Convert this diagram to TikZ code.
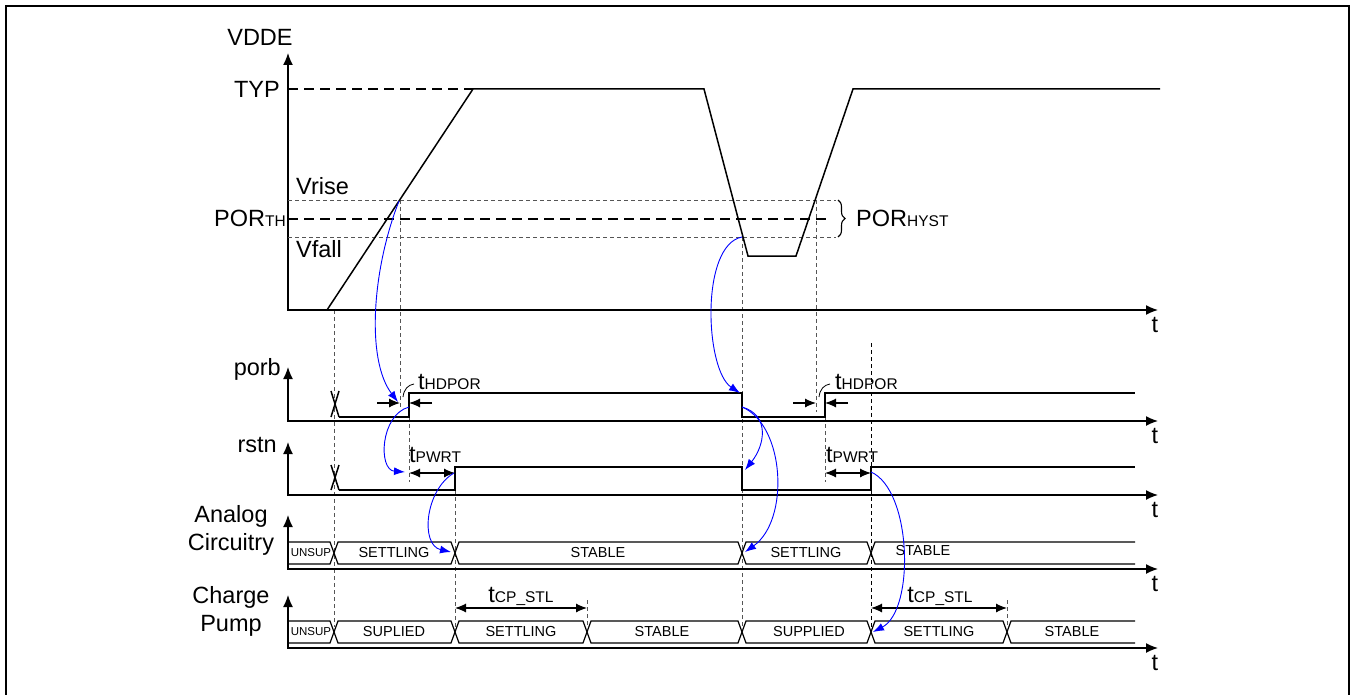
\documentclass[tikz,border=0pt]{standalone}
\usepackage{fontspec}
\setmainfont{Liberation Sans}
\usetikzlibrary{arrows.meta,positioning,calc,decorations.pathreplacing}
\definecolor{gline}{HTML}{555555}
\tikzset{
  wave/.style   = {line width=1.5pt, line join=miter},
  axes/.style   = {{Latex[length=12pt,width=10pt]}-{Latex[length=12pt,width=10pt]}, line width=1.4pt},
  busln/.style  = {line width=1.2pt},
  guide/.style  = {gline, line width=0.9pt, dash pattern=on 4pt off 3pt},
  thresh/.style = {line width=1.2pt, dash pattern=on 10pt off 6pt},
  cause/.style  = {blue, line width=0.9pt, -{Latex[length=11pt,width=8pt]}},
  dimarr/.style = {line width=1.1pt, {Latex[length=11pt,width=9pt]}-{Latex[length=11pt,width=9pt]}},
  dimtip/.style = {line width=1.1pt, -{Latex[length=11pt,width=9pt]}},
  leader/.style = {line width=0.8pt},
}
\newcommand{\mainsz}{\fontsize{23.5}{28}\selectfont}
\newcommand{\subsz}{\fontsize{15.5}{18}\selectfont}
\newcommand{\bussz}{\fontsize{14.5}{17}\selectfont}
\newcommand{\unsz}{\fontsize{11.5}{13}\selectfont}
\newcommand{\withsub}[2]{#1{\subsz #2}}

\begin{document}
\begin{tikzpicture}[x=1pt,y=-1pt,font=\mainsz,inner sep=0pt]
\useasboundingbox (0,0) rectangle (1352,695);
\draw[line width=1.5pt] (6,695) -- (6,6) -- (1349,6) -- (1349,695);
% ---- guides ----
\foreach \x/\ya/\yb in {334/310/627, 400/200/410, 409/417/482, 455/490/627,
                        742/237/627, 816/200/412, 825/417/482, 587/600/627, 1007/600/627}
  \draw[guide] (\x,\ya) -- (\x,\yb);
\draw[guide,black] (871,343) -- (871,627);
% ---- axes ----
\foreach \yb/\yt/\n in {310/53/v, 421/367/p, 495/442/r, 569/515/a, 648/595/c}{
  \draw[axes] (288,\yt) -- (288,\yb) -- (1158,\yb);
  \node[anchor=base] (t\n) at (1155,\yb+22) {t};}
\node[anchor=base] (vdde) at (260,46) {VDDE};
\node[anchor=base east] (porb) at (281,375) {porb};
\node[anchor=base east] (rstn) at (277,452) {rstn};
\node[align=center] (ana) at (231,530) {Analog\\Circuitry};
\node[align=center] (cp) at (231,611) {Charge\\Pump};
% ---- VDDE panel ----
\node[anchor=base east] (typ) at (280,98) {TYP};
\node[anchor=base east] (porth) at (286,226) {\withsub{POR}{TH}};
\node[anchor=base west] (vrise) at (296,195) {Vrise};
\node[anchor=base west] (vfall) at (296,258) {Vfall};
\draw[thresh] (288,89) -- (473,89);
\draw[thresh] (288,219) -- (830,219);
\draw[guide] (288,200) -- (836,200);
\draw[guide] (288,237) -- (836,237);
\draw[decorate,decoration={brace,amplitude=7pt},line width=1.1pt] (838,200) -- (838,237);
\node[anchor=base west] (hyst) at (856,227) {\withsub{POR}{HYST}};
\draw[wave] (327,310) -- (473,89) -- (704,89) -- (748,256) -- (796,256) -- (853,89) -- (1160,89);
% ---- porb / rstn ----
\draw[wave] (331,391) -- (339,417) (339,391) -- (331,417);
\draw[wave] (339,417) -- (409,417) -- (409,393) -- (742,393) -- (742,417)
  -- (825,417) -- (825,393) -- (1135,393);
\draw[wave] (331,465) -- (339,490) (339,465) -- (331,490);
\draw[wave] (339,490) -- (455,490) -- (455,467) -- (742,467) -- (742,490)
  -- (871,490) -- (871,467) -- (1135,467);
% tHDPOR and tPWRT
\foreach \xa/\xb in {400/409, 816/825}{
  \draw[dimtip] (\xa-23,403) -- (\xa,403);
  \draw[dimtip] (\xb+23,403) -- (\xb,403);
  \draw[leader] (\xa+3,397) .. controls (\xa+4,389) and (\xa+8,385) .. (\xa+14,384);}
\node[anchor=base west] (hd1) at (418,389) {\withsub{t}{HDPOR}};
\node[anchor=base west] (hd2) at (835,389) {\withsub{t}{HDPOR}};
\draw[dimarr] (409,473) -- (455,473);
\draw[dimarr] (825,473) -- (871,473);
\node[anchor=base west] (pw1) at (409,462) {\withsub{t}{PWRT}};
\node[anchor=base west] (pw2) at (826,462) {\withsub{t}{PWRT}};
% ---- Analog Circuitry bus ----
\draw[busln] (288,542) -- (330,542) -- (334,553) -- (330,564) -- (288,564);
\node[font=\unsz] (an0) at (311,553) {UNSUP};
\foreach \a/\b/\lx/\lab in {334/455/394/SETTLING, 455/742/598/STABLE, 742/871/806/SETTLING}
  \draw[busln] (\a,553) -- ({\a+4},542) -- ({\b-4},542) -- (\b,553) -- ({\b-4},564) -- ({\a+4},564) -- cycle
    node[font=\bussz] (an\a) at (\lx,553) {\lab};
\draw[busln] (1135,542) -- (875,542) -- (871,553) -- (875,564) -- (1135,564);
\node[font=\bussz] (an871) at (923,551) {STABLE};
% ---- Charge Pump bus ----
\draw[busln] (288,621) -- (330,621) -- (334,632) -- (330,643) -- (288,643);
\node[font=\unsz] (cp0) at (311,632) {UNSUP};
\foreach \a/\b/\lx/\lab in {334/455/394/SUPLIED, 455/587/521/SETTLING, 587/742/662/STABLE,
                           742/871/809/SUPPLIED, 871/1007/939/SETTLING}
  \draw[busln] (\a,632) -- ({\a+4},621) -- ({\b-4},621) -- (\b,632) -- ({\b-4},643) -- ({\a+4},643) -- cycle
    node[font=\bussz] (cp\a) at (\lx,632) {\lab};
\draw[busln] (1135,621) -- (1011,621) -- (1007,632) -- (1011,643) -- (1135,643);
\node[font=\bussz] (cp1007) at (1072,632) {STABLE};
% tCP_STL
\draw[dimarr] (455,608) -- (587,608);
\draw[dimarr] (871,608) -- (1007,608);
\node[anchor=base] (cs1) at (521,602) {\withsub{t}{CP\_STL}};
\node[anchor=base] (cs2) at (940,602) {\withsub{t}{CP\_STL}};
% ---- cause arrows ----
\coordinate (crs1) at (399,201);   \coordinate (pbtip1) at (398,402);
\coordinate (pbrise) at (409,407); \coordinate (rstip1) at (405,472);
\coordinate (rsrise) at (454,473); \coordinate (antip1) at (451,552);
\coordinate (crs2) at (742,237);   \coordinate (pbtip2) at (740,393);
\coordinate (pbfall) at (742,407); \coordinate (rstip2) at (745,470);
\coordinate (antip2) at (745,552); \coordinate (rsrise2) at (871,472);
\coordinate (cptip) at (873,632);
\draw[cause] (crs1) .. controls (372,270) and (366,360) .. (pbtip1);
\draw[cause] (pbrise) .. controls (380,415) and (378,470) .. (rstip1);
\draw[cause] (rsrise) .. controls (425,490) and (420,545) .. (antip1);
\draw[cause] (crs2) .. controls (700,245) and (705,370) .. (pbtip2);
\draw[cause] (pbfall) .. controls (770,415) and (765,445) .. (rstip2);
\draw[cause] (pbfall) .. controls (785,425) and (790,520) .. (antip2);
\draw[cause] (rsrise2) .. controls (912,490) and (915,610) .. (cptip);
\end{tikzpicture}
\end{document}
